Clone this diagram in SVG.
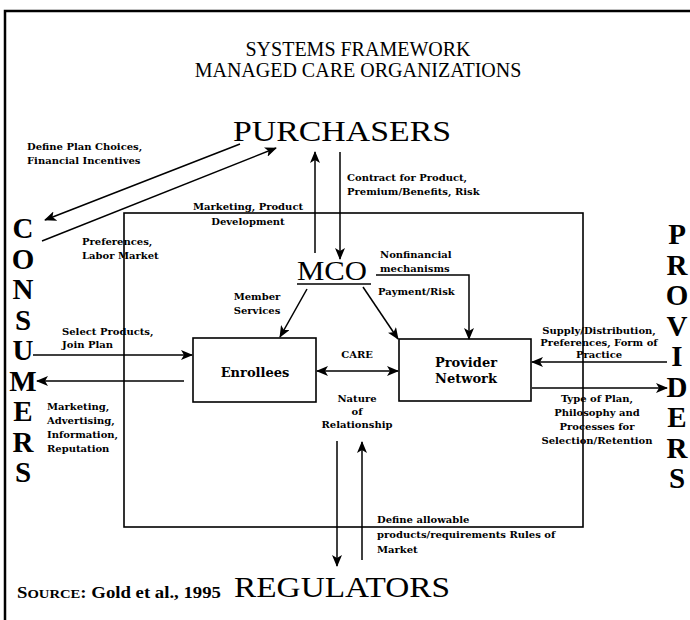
<svg xmlns="http://www.w3.org/2000/svg" width="690" height="620" viewBox="0 0 690 620">
<style>
.t{font-family:"Liberation Serif","Times New Roman",serif;fill:#000}
.title{font-size:20px;text-anchor:middle}
.big{font-size:30px;text-anchor:middle}
.lbl{font-family:"DejaVu Serif","Liberation Serif",serif;font-size:10px;font-weight:bold;fill:#000}
.mid{text-anchor:middle}
.side{font-size:29px;font-weight:bold;text-anchor:middle}
.box{fill:#fff;stroke:#000;stroke-width:1.6}
.ln{stroke:#000;stroke-width:1.5;fill:none}
.bx{font-family:"DejaVu Serif","Liberation Serif",serif;font-size:13px;font-weight:bold;text-anchor:middle;fill:#000}
</style>
<defs>
<marker id="ah" viewBox="0 0 12 10" refX="11" refY="5" markerWidth="12" markerHeight="10" markerUnits="userSpaceOnUse" orient="auto-start-reverse">
<path d="M0,0 L12,5 L0,10 L3,5 Z" fill="#000"/>
</marker>
</defs>
<rect width="690" height="620" fill="#fff"/>
<path d="M5,620 V11 H690" fill="none" stroke="#000" stroke-width="2.5"/>
<g id="title">
<text class="t title" x="358" y="56">SYSTEMS FRAMEWORK</text>
<text class="t title" x="358" y="77">MANAGED CARE ORGANIZATIONS</text>
</g>
<g id="system-boundary">
<rect x="124" y="213" width="459" height="314" fill="none" stroke="#000" stroke-width="1.6"/>
</g>
<g id="purchasers"><text class="t big" x="342" y="141" textLength="218" lengthAdjust="spacingAndGlyphs">PURCHASERS</text></g>
<g id="regulators"><text class="t big" x="342" y="597" textLength="216" lengthAdjust="spacingAndGlyphs">REGULATORS</text></g>
<g id="mco">
<text class="t" x="332" y="280" font-size="28" text-anchor="middle" textLength="70" lengthAdjust="spacingAndGlyphs">MCO</text>
<line x1="297" y1="284" x2="371" y2="284" stroke="#000" stroke-width="1.4"/>
</g>
<g id="consumers">
<text class="t side" x="23" y="238">C</text>
<text class="t side" x="23" y="269">O</text>
<text class="t side" x="23" y="299">N</text>
<text class="t side" x="23" y="330">S</text>
<text class="t side" x="23" y="360">U</text>
<text class="t side" x="23" y="391">M</text>
<text class="t side" x="23" y="421">E</text>
<text class="t side" x="23" y="452">R</text>
<text class="t side" x="23" y="482">S</text>
</g>
<g id="providers">
<text class="t side" x="677" y="244">P</text>
<text class="t side" x="677" y="275">R</text>
<text class="t side" x="677" y="305">O</text>
<text class="t side" x="677" y="336">V</text>
<text class="t side" x="677" y="366">I</text>
<text class="t side" x="677" y="397">D</text>
<text class="t side" x="677" y="427">E</text>
<text class="t side" x="677" y="458">R</text>
<text class="t side" x="677" y="488">S</text>
</g>
<g id="enrollees">
<rect class="box" x="193" y="338" width="123" height="64"/>
<text class="bx" x="255" y="377">Enrollees</text>
</g>
<g id="provider-network">
<rect class="box" x="399" y="339" width="132" height="62"/>
<text class="bx" x="466" y="367">Provider</text>
<text class="bx" x="466" y="383">Network</text>
</g>
<g id="connectors">
<line class="ln" x1="240" y1="144" x2="45" y2="220" marker-end="url(#ah)"/>
<line class="ln" x1="42" y1="241" x2="276" y2="148" marker-end="url(#ah)"/>
<line class="ln" x1="315" y1="253" x2="315" y2="152" marker-end="url(#ah)"/>
<line class="ln" x1="340" y1="152" x2="340" y2="259" marker-end="url(#ah)"/>
<line class="ln" x1="307" y1="289" x2="280" y2="337" marker-end="url(#ah)"/>
<line class="ln" x1="363" y1="287" x2="398" y2="339" marker-end="url(#ah)"/>
<polyline class="ln" points="376,275 469,275 469,339" marker-end="url(#ah)"/>
<line class="ln" x1="317" y1="371" x2="398" y2="371" marker-start="url(#ah)" marker-end="url(#ah)"/>
<line class="ln" x1="33" y1="355" x2="192" y2="355" marker-end="url(#ah)"/>
<line class="ln" x1="184" y1="381" x2="37" y2="381" marker-end="url(#ah)"/>
<line class="ln" x1="667" y1="362" x2="532" y2="362" marker-end="url(#ah)"/>
<line class="ln" x1="532" y1="388" x2="667" y2="388" marker-end="url(#ah)"/>
<line class="ln" x1="337" y1="441" x2="337" y2="566" marker-end="url(#ah)"/>
<line class="ln" x1="362" y1="560" x2="362" y2="442" marker-end="url(#ah)"/>
</g>
<g id="labels">
<text class="lbl" x="27" y="150">Define Plan Choices,</text>
<text class="lbl" x="27" y="164">Financial Incentives</text>
<text class="lbl" x="347" y="181">Contract for Product,</text>
<text class="lbl" x="347" y="195">Premium/Benefits, Risk</text>
<text class="lbl mid" x="248" y="210">Marketing, Product</text>
<text class="lbl mid" x="248" y="225">Development</text>
<text class="lbl" x="82" y="245">Preferences,</text>
<text class="lbl" x="82" y="259">Labor Market</text>
<text class="lbl" x="380" y="258">Nonfinancial</text>
<text class="lbl" x="380" y="272">mechanisms</text>
<text class="lbl" x="378" y="295">Payment/Risk</text>
<text class="lbl mid" x="257" y="300">Member</text>
<text class="lbl mid" x="257" y="314">Services</text>
<text class="lbl mid" x="357" y="358">CARE</text>
<text class="lbl mid" x="357" y="402">Nature</text>
<text class="lbl mid" x="357" y="415">of</text>
<text class="lbl mid" x="357" y="428">Relationship</text>
<text class="lbl" x="62" y="335">Select Products,</text>
<text class="lbl" x="62" y="348">Join Plan</text>
<text class="lbl" x="47" y="410">Marketing,</text>
<text class="lbl" x="47" y="424">Advertising,</text>
<text class="lbl" x="47" y="438">Information,</text>
<text class="lbl" x="47" y="452">Reputation</text>
<text class="lbl mid" x="599" y="334">Supply/Distribution,</text>
<text class="lbl mid" x="599" y="346">Preferences, Form of</text>
<text class="lbl mid" x="599" y="358">Practice</text>
<text class="lbl mid" x="597" y="402">Type of Plan,</text>
<text class="lbl mid" x="597" y="416">Philosophy and</text>
<text class="lbl mid" x="597" y="430">Processes for</text>
<text class="lbl mid" x="597" y="444">Selection/Retention</text>
<text class="lbl" x="377" y="523">Define allowable</text>
<text class="lbl" x="377" y="538">products/requirements Rules of</text>
<text class="lbl" x="377" y="553">Market</text>
<text class="t" x="17" y="598" font-size="16" font-weight="bold" textLength="204" lengthAdjust="spacingAndGlyphs">S<tspan font-size="12.5">OURCE</tspan>: Gold et al., 1995</text>
</g>
</svg>
